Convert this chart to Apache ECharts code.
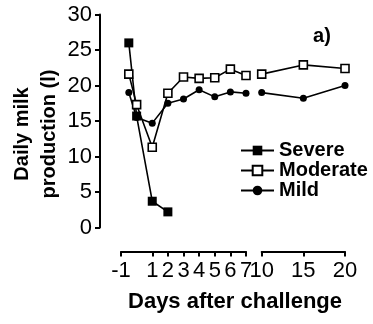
<!DOCTYPE html>
<html>
<head>
<meta charset="utf-8">
<script src="https://cdn.jsdelivr.net/npm/echarts@6/dist/echarts.min.js"></script>
<style>
html,body{margin:0;padding:0;background:#fff;}
#chart{width:373px;height:324px;}
</style>
</head>
<body>
<div id="chart"></div>
<script>
// Data
const severeDays = [-0.5, 0, 1, 2];
const severeMilk = [26.0, 15.7, 3.7, 2.2];

const earlyDays = [-0.5, 0, 1, 2, 3, 4, 5, 6, 7];
const lateDays = [10, 15, 20];

const moderateEarly = [21.6, 17.3, 11.3, 18.9, 21.2, 21.0, 21.1, 22.3, 21.4];
const moderateLate = [21.6, 22.9, 22.4];

const mildEarly = [19.0, 15.5, 14.7, 17.5, 18.1, 19.4, 18.4, 19.1, 18.9];
const mildLate = [19.0, 18.2, 20.0];

const seriesNames = ['Severe', 'Moderate', 'Mild'];
const yTitle = 'Daily milk\nproduction (l)';
const xTitle = 'Days after challenge';
const panelLabel = 'a)';

function pairs(xs, ys) { return xs.map((x, i) => [x, ys[i]]); }

const FONT = '"Liberation Sans", Arial, Helvetica, sans-serif';
const axisColor = '#000';

const chart = echarts.init(document.getElementById('chart'), null, {renderer: 'canvas'});

function xAxisCfg(gridIndex, min, max, interval) {
  return {
    type: 'value', gridIndex: gridIndex, min: min, max: max, interval: interval,
    position: 'bottom', offset: 24,
    axisLine: {show: true, onZero: false, lineStyle: {color: axisColor, width: 2}},
    axisTick: {show: true, inside: false, length: 5, lineStyle: {color: axisColor, width: 2}},
    axisLabel: {show: true, color: '#000', fontSize: 22, fontFamily: FONT, margin: 8, showMinLabel: true, showMaxLabel: true},
    splitLine: {show: false}
  };
}

const modStyle = {color: '#fff', borderColor: '#000', borderWidth: 1.6};
const lineStyle = {color: '#000', width: 1.6};

const option = {
  animation: false,
  backgroundColor: '#fff',
  grid: [
    {left: 121, width: 125, top: 14.5, height: 213},
    {left: 261.7, width: 83.3, top: 14.5, height: 213}
  ],
  xAxis: [
    xAxisCfg(0, -1, 7, 1),
    xAxisCfg(1, 10, 20, 5)
  ],
  yAxis: [
    {
      type: 'value', gridIndex: 0, min: 0, max: 30, interval: 5,
      position: 'left', offset: 21,
      axisLine: {show: true, onZero: false, lineStyle: {color: axisColor, width: 2}},
      axisTick: {show: true, inside: false, length: 5, lineStyle: {color: axisColor, width: 2}},
      axisLabel: {color: '#000', fontSize: 22, fontFamily: FONT, margin: 8},
      splitLine: {show: false}
    },
    {type: 'value', gridIndex: 1, min: 0, max: 30, interval: 5, show: false,
     axisLine: {onZero: false}, splitLine: {show: false}}
  ],
  legend: {
    data: seriesNames,
    orient: 'vertical',
    left: 240, top: 140.5,
    padding: 0,
    itemWidth: 33, itemHeight: 12, itemGap: 0,
    textStyle: {color: '#000', fontSize: 20, fontWeight: 'bold', fontFamily: FONT, lineHeight: 19}
  },
  series: [
    {
      name: 'Mild', type: 'line', xAxisIndex: 0, yAxisIndex: 0,
      data: pairs(earlyDays, mildEarly),
      symbol: 'circle', symbolSize: 7,
      itemStyle: {color: '#000'}, lineStyle: lineStyle
    },
    {
      name: 'Mild', type: 'line', xAxisIndex: 1, yAxisIndex: 1,
      data: pairs(lateDays, mildLate),
      symbol: 'circle', symbolSize: 7,
      itemStyle: {color: '#000'}, lineStyle: lineStyle
    },
    {
      name: 'Moderate', type: 'line', xAxisIndex: 0, yAxisIndex: 0,
      data: pairs(earlyDays, moderateEarly),
      symbol: 'rect', symbolSize: 8, showAllSymbol: true,
      itemStyle: modStyle, lineStyle: lineStyle
    },
    {
      name: 'Moderate', type: 'line', xAxisIndex: 1, yAxisIndex: 1,
      data: pairs(lateDays, moderateLate),
      symbol: 'rect', symbolSize: 8,
      itemStyle: modStyle, lineStyle: lineStyle
    },
    {
      name: 'Severe', type: 'line', xAxisIndex: 0, yAxisIndex: 0,
      data: pairs(severeDays, severeMilk),
      symbol: 'rect', symbolSize: 9,
      itemStyle: {color: '#000'}, lineStyle: lineStyle
    }
  ],
  graphic: [
    {
      type: 'text', x: 35.5, y: 134, rotation: Math.PI / 2,
      style: {text: yTitle, fill: '#000', font: 'bold 20px ' + FONT, textAlign: 'center', textVerticalAlign: 'middle', lineHeight: 27}
    },
    {
      type: 'text', x: 235, y: 302,
      style: {text: xTitle, fill: '#000', font: 'bold 22px ' + FONT, textAlign: 'center', textVerticalAlign: 'middle'}
    },
    {
      type: 'text', x: 322, y: 36,
      style: {text: panelLabel, fill: '#000', font: 'bold 20px ' + FONT, textAlign: 'center', textVerticalAlign: 'middle'}
    }
  ]
};

chart.setOption(option);
</script>
</body>
</html>
